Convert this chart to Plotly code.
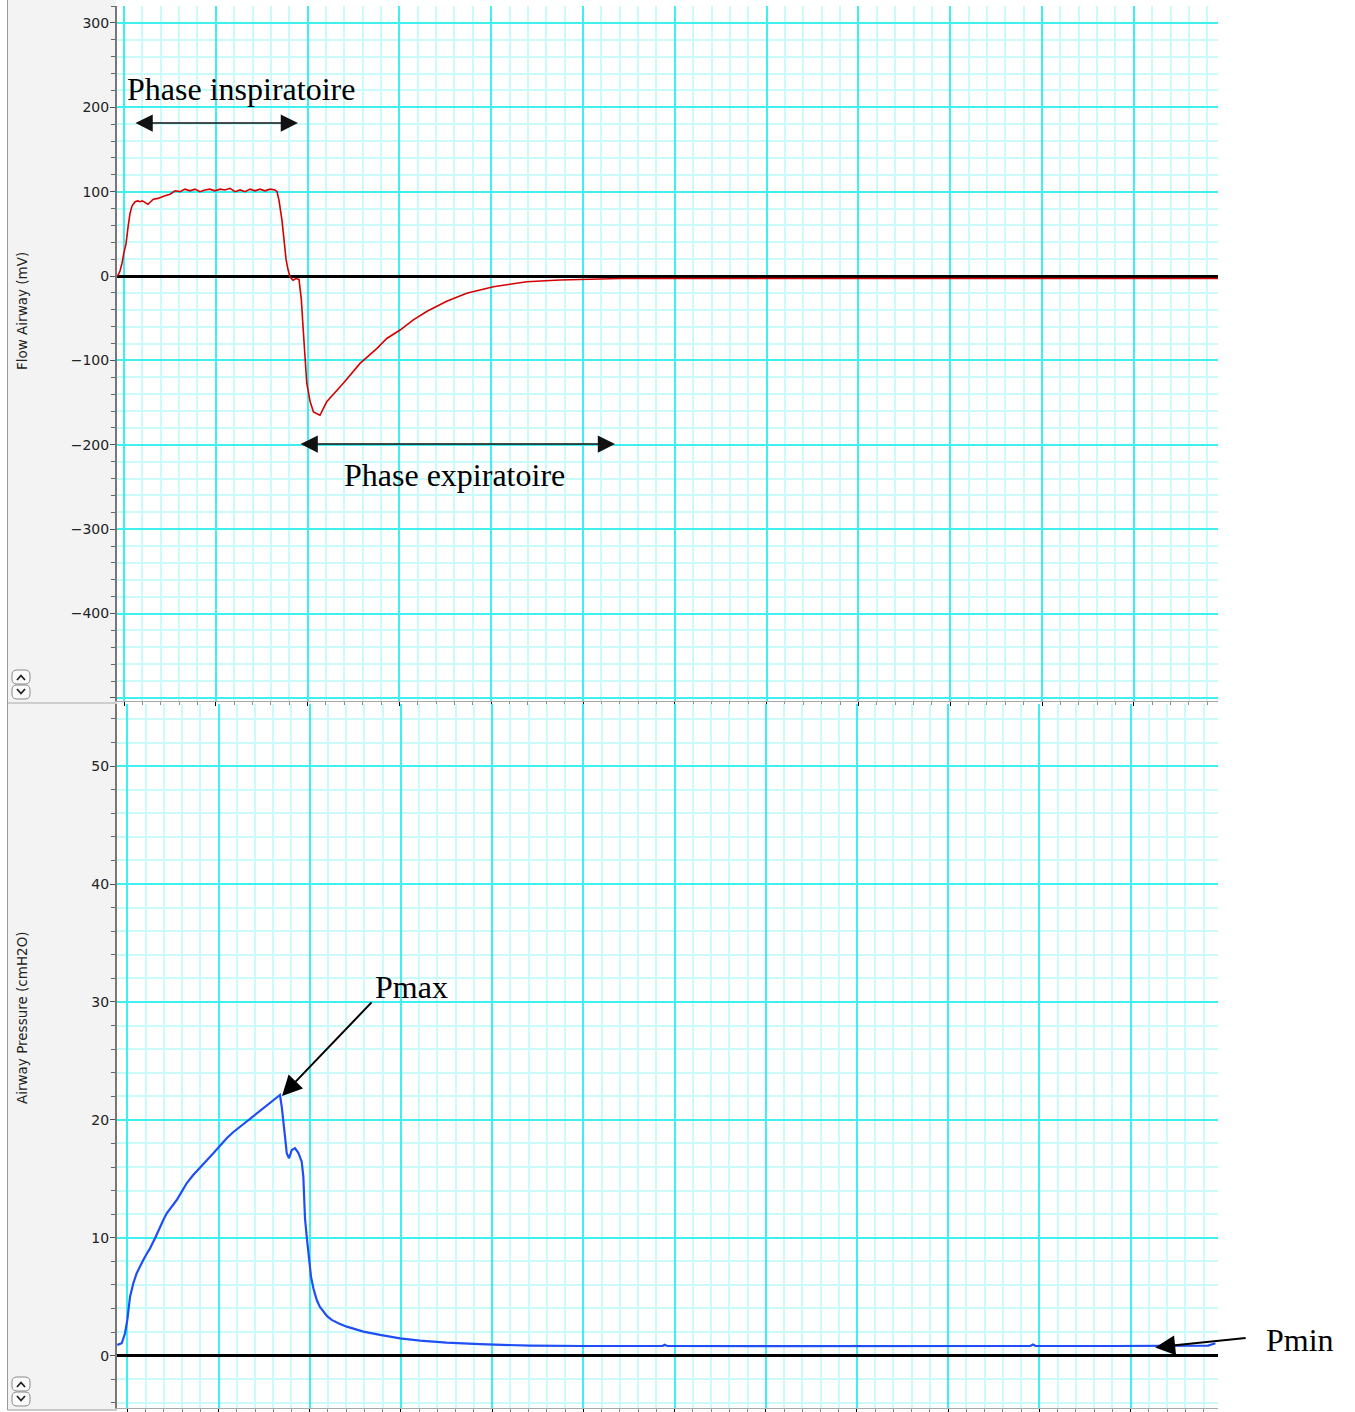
import plotly.graph_objects as go

# ---------------- data (time in grid units, one major division = 1) ----------------
flow_t = [-0.076, -0.065, -0.044, -0.022, 0.000, 0.022, 0.044, 0.065, 0.087, 0.120,
          0.150, 0.174, 0.200, 0.229, 0.261, 0.290, 0.320, 0.370, 0.410, 0.447,
          0.501, 0.556, 0.610, 0.664, 0.719, 0.773, 0.828, 0.882, 0.937, 0.991,
          1.046, 1.100, 1.155, 1.209, 1.264, 1.318, 1.373, 1.427, 1.481, 1.536,
          1.590, 1.645, 1.667, 1.688, 1.721, 1.743, 1.765, 1.786, 1.808, 1.841,
          1.874, 1.906, 1.932, 1.950, 1.970, 1.991, 2.028, 2.064, 2.118, 2.135,
          2.208, 2.389, 2.571, 2.753, 2.862, 3.007, 3.152, 3.297, 3.515, 3.733,
          4.023, 4.387, 4.749, 5.112, 5.403, 6.500, 8.000, 9.500, 11.000, 11.917]
flow_v = [0, 1, 6, 15, 28, 38, 58, 74, 83, 88,
          89, 88, 89, 87, 85, 88, 91, 92, 94, 95,
          97, 101, 100, 103, 101, 103, 100, 102, 103, 101,
          103, 102, 104, 100, 102, 100, 103, 101, 103, 101,
          103, 102, 100, 90, 66, 40, 20, 8, -1, -5,
          -3, -4, -28, -60, -100, -127, -149, -161, -164, -165,
          -149, -127, -103.5, -86, -74, -64, -52, -42, -30, -20.5,
          -12.7, -6.7, -4.7, -3.6, -3, -3, -2.8, -3, -3, -3]

pres_t = [-0.110, -0.061, -0.025, 0.000, 0.030, 0.066, 0.103, 0.140, 0.175, 0.210,
          0.249, 0.304, 0.358, 0.395, 0.432, 0.490, 0.542, 0.600, 0.651, 0.720,
          0.797, 0.870, 0.943, 1.015, 1.090, 1.160, 1.236, 1.345, 1.430, 1.528,
          1.600, 1.674, 1.693, 1.711, 1.729, 1.748, 1.773, 1.803, 1.839, 1.875,
          1.912, 1.930, 1.940, 1.948, 1.967, 1.992, 2.014, 2.040, 2.077, 2.110,
          2.149, 2.190, 2.241, 2.320, 2.406, 2.588, 2.771, 2.990, 3.210, 3.500,
          3.867, 4.416, 5.000, 5.870, 5.890, 5.920, 7.000, 8.000, 9.000, 9.900,
          9.930, 9.960, 10.800, 11.500, 11.850, 11.930]
pres_v = [0.91, 1.05, 1.9, 3.03, 5.0, 6.14, 6.99, 7.6, 8.12, 8.6,
          9.1, 9.96, 10.94, 11.5, 12.08, 12.7, 13.2, 13.95, 14.62, 15.3,
          15.9, 16.55, 17.17, 17.8, 18.44, 18.95, 19.42, 20.14, 20.65, 21.26,
          21.65, 22.11, 21.12, 19.57, 18.58, 17.17, 16.74, 17.45, 17.59, 17.2,
          16.45, 15.18, 13.2, 11.65, 10.09, 8.26, 6.70, 5.72, 4.72, 4.15,
          3.73, 3.35, 3.03, 2.72, 2.46, 2.04, 1.76, 1.47, 1.27, 1.10,
          0.97, 0.85, 0.82, 0.82, 0.92, 0.82, 0.80, 0.80, 0.80, 0.82,
          0.95, 0.82, 0.82, 0.82, 0.85, 1.05]

flow_ticks = [-500, -400, -300, -200, -100, 0, 100, 200, 300]
flow_ticktext = ["", "\u2212400", "\u2212300", "\u2212200", "\u2212100", "0", "100", "200", "300"]

# ---------------- geometry helpers ----------------
W, H = 1355, 1412
L, R, T, B = 117, 137, 6, 4
PW, PH = W - L - R, H - T - B


def fx(xp):
    return (xp - L) / PW


def fy(yp):
    return (H - B - yp) / PH


MAJ = "#3ff0f0"
MIN = "#cafafa"

fig = go.Figure()
fig.add_trace(go.Scatter(x=flow_t, y=flow_v, xaxis="x", yaxis="y", mode="lines",
                         line=dict(color="#d40000", width=1.6), hoverinfo="skip",
                         showlegend=False))
fig.add_trace(go.Scatter(x=pres_t, y=pres_v, xaxis="x2", yaxis="y2", mode="lines",
                         line=dict(color="#1f4ef5", width=2.2), hoverinfo="skip",
                         showlegend=False))

xcommon = dict(dtick=1, tick0=0, showgrid=True, gridcolor=MAJ, gridwidth=2,
               minor=dict(dtick=0.2, tick0=0, showgrid=True, gridcolor=MIN, gridwidth=1.5,
                          ticks="outside", ticklen=3, tickcolor="#888"),
               ticks="outside", ticklen=4, tickcolor="#000", tickwidth=1,
               showticklabels=False, zeroline=False, showline=True,
               linecolor="#aaaaaa", linewidth=1, fixedrange=True, automargin=False)
ycommon = dict(showgrid=True, gridcolor=MAJ, gridwidth=2,
               ticks="outside", ticklen=5, tickcolor="#555", tickwidth=1,
               ticklabelstandoff=-2,
               showline=True, linecolor="#777", linewidth=2,
               zeroline=True, zerolinecolor="#000", zerolinewidth=3,
               tickfont=dict(family="DejaVu Sans", size=14, color="#222"),
               fixedrange=True, automargin=False)

fig.update_layout(
    width=W, height=H,
    margin=dict(l=L, r=R, t=T, b=B, pad=0, autoexpand=False),
    paper_bgcolor="white", plot_bgcolor="white",
    xaxis=dict(domain=[0, 1], anchor="y", range=[-0.0763, 11.917], **xcommon),
    yaxis=dict(domain=[fy(701), fy(6)], anchor="x", range=[-503.6, 320],
               tickmode="array", tickvals=flow_ticks, ticktext=flow_ticktext,
               minor=dict(dtick=20, tick0=0, showgrid=True, gridcolor=MIN, gridwidth=1.5,
                          ticks="outside", ticklen=4, tickcolor="#666"),
               **ycommon),
    xaxis2=dict(domain=[0, 1], anchor="y2", range=[-0.113, 11.958], **xcommon),
    yaxis2=dict(domain=[0, fy(704)], anchor="x2", range=[-4.44, 55.27],
                dtick=10, tick0=0,
                minor=dict(dtick=2, tick0=0, showgrid=True, gridcolor=MIN, gridwidth=1.5,
                           ticks="outside", ticklen=4, tickcolor="#666"),
                **ycommon),
)

# ---------------- left gray strip, borders, scroll icons ----------------
shapes = [
    dict(type="rect", xref="paper", yref="paper", x0=fx(7.5), x1=fx(116), y0=fy(1410), y1=fy(0),
         fillcolor="#f3f3f3", line=dict(width=0), layer="below"),
    dict(type="line", xref="paper", yref="paper", x0=fx(7.5), x1=fx(7.5), y0=fy(1410), y1=fy(0),
         line=dict(color="#9a9a9a", width=1)),
    dict(type="line", xref="paper", yref="paper", x0=fx(7.5), x1=fx(117), y0=fy(1410), y1=fy(1410),
         line=dict(color="#9a9a9a", width=1)),
    dict(type="line", xref="paper", yref="paper", x0=fx(7.5), x1=fx(117), y0=fy(703), y1=fy(703),
         line=dict(color="#a8a8a8", width=1)),
]


def rrect(x0, y0, x1, y1, r):
    pts = [("M", x0 + r, y0), ("L", x1 - r, y0), ("Q", x1, y0, x1, y0 + r), ("L", x1, y1 - r),
           ("Q", x1, y1, x1 - r, y1), ("L", x0 + r, y1), ("Q", x0, y1, x0, y1 - r),
           ("L", x0, y0 + r), ("Q", x0, y0, x0 + r, y0)]
    s = ""
    for p in pts:
        if p[0] == "Q":
            s += "Q%.5f,%.5f %.5f,%.5f " % (fx(p[1]), fy(p[2]), fx(p[3]), fy(p[4]))
        else:
            s += "%s%.5f,%.5f " % (p[0], fx(p[1]), fy(p[2]))
    return s + "Z"


def chevron(a, b, c):
    return "M%.5f,%.5f L%.5f,%.5f L%.5f,%.5f" % (fx(a[0]), fy(a[1]), fx(b[0]), fy(b[1]), fx(c[0]), fy(c[1]))


for off in (0, 707):
    shapes.append(dict(type="path", xref="paper", yref="paper", path=rrect(12, 670 + off, 30, 684 + off, 5),
                       fillcolor="#fbfbfb", line=dict(color="#8a8a8a", width=1)))
    shapes.append(dict(type="path", xref="paper", yref="paper", path=rrect(12, 685 + off, 30, 699 + off, 5),
                       fillcolor="#fbfbfb", line=dict(color="#8a8a8a", width=1)))
    shapes.append(dict(type="path", xref="paper", yref="paper",
                       path=chevron((17, 680 + off), (21, 675.5 + off), (25, 680 + off)),
                       line=dict(color="#222", width=1.8)))
    shapes.append(dict(type="path", xref="paper", yref="paper",
                       path=chevron((17, 689 + off), (21, 693.5 + off), (25, 689 + off)),
                       line=dict(color="#222", width=1.8)))

fig.update_layout(shapes=shapes)

# ---------------- annotations ----------------
serif = dict(family="Liberation Serif, Times New Roman, serif", size=32, color="#000")
ann = [
    dict(xref="x", yref="y", x=1.278, y=222.2, text="Phase inspiratoire", showarrow=False,
         font=serif, xanchor="center", yanchor="middle"),
    dict(xref="x", yref="y", x=1.895, y=181.3, ax=-164, ay=0, text="", showarrow=True,
         arrowhead=2, startarrowhead=2, arrowside="end+start", arrowsize=2.3, startarrowsize=2.3,
         arrowwidth=1.5, arrowcolor="#111", standoff=0, startstandoff=0),
    dict(xref="x", yref="y", x=3.595, y=-235.8, text="Phase expiratoire", showarrow=False,
         font=serif, xanchor="center", yanchor="middle"),
    dict(xref="x", yref="y", x=5.349, y=-199.1, ax=-316, ay=0, text="", showarrow=True,
         arrowhead=2, startarrowhead=2, arrowside="end+start", arrowsize=2.3, startarrowsize=2.3,
         arrowwidth=1.5, arrowcolor="#111", standoff=0, startstandoff=0),
    dict(xref="x2", yref="y2", x=3.111, y=31.31, text="Pmax", showarrow=False,
         font=serif, xanchor="center", yanchor="middle"),
    dict(xref="x2", yref="y2", x=1.696, y=22.03, ax=91, ay=-95, text="", showarrow=True,
         arrowhead=2, arrowsize=2, arrowwidth=2, arrowcolor="#000", standoff=0),
    dict(xref="paper", yref="paper", x=fx(1300), y=fy(1340), text="Pmin", showarrow=False,
         font=serif, xanchor="center", yanchor="middle"),
    dict(xref="x2", yref="y2", x=11.269, y=0.70, ax=92, ay=-9.5, text="", showarrow=True,
         arrowhead=2, arrowsize=2, arrowwidth=2, arrowcolor="#000", standoff=0),
    dict(xref="paper", yref="paper", x=fx(22), y=fy(311), text="Flow Airway (mV)", showarrow=False,
         textangle=-90, font=dict(family="DejaVu Sans", size=13.5, color="#222"),
         xanchor="center", yanchor="middle"),
    dict(xref="paper", yref="paper", x=fx(22), y=fy(1018), text="Airway Pressure (cmH2O)",
         showarrow=False, textangle=-90, font=dict(family="DejaVu Sans", size=13.5, color="#222"),
         xanchor="center", yanchor="middle"),
]
fig.update_layout(annotations=ann)

fig.write_html("out.html", config={"displayModeBar": False},
               post_script="document.body.style.margin='0';")
